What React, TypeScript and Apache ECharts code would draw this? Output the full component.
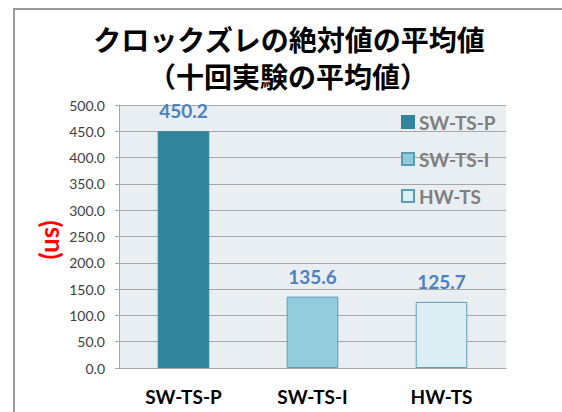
import React, { useEffect, useRef } from "react";
import * as echarts from "echarts";

const categories = ["SW-TS-P", "SW-TS-I", "HW-TS"];
const values = [450.2, 135.6, 125.7];
const barColors = ["#31859C", "#93CDDD", "#DBEEF4"];
const borderColors = ["#31859C", "#5A9DB4", "#5A9DB4"];
const titleLines = ["クロックズレの絶対値の平均値", "（十回実験の平均値）"];
const yAxisName = "(us)";

export default function App() {
  const ref = useRef<HTMLDivElement>(null);
  useEffect(() => {
    if (!ref.current) return;
    const chart = echarts.init(ref.current, null, { renderer: "svg" });
    const latin = "Lato, 'Noto Sans', sans-serif";
    const series = categories.map((name, i) => ({
      name,
      type: "bar",
      stack: "total",
      barWidth: "40%",
      data: values.map((v, j) => (j === i ? v : null)),
      itemStyle: { color: barColors[i], borderColor: borderColors[i], borderWidth: 1 },
      label: {
        show: true,
        position: "top",
        distance: 11,
        color: "#4F81BD",
        fontFamily: latin,
        fontWeight: "bold",
        fontSize: 19,
        formatter: (p: any) => Number(p.value).toFixed(1),
      },
    }));
    chart.setOption({
      animation: false,
      backgroundColor: "#ffffff",
      grid: {
        left: 119,
        right: 56,
        top: 105,
        bottom: 44,
        show: true,
        backgroundColor: "#E8EEF2",
        borderWidth: 0,
      },
      legend: {
        orient: "vertical",
        left: 396,
        top: 107,
        itemWidth: 12,
        itemHeight: 12,
        itemGap: 17,
        icon: "rect",
        data: categories,
        textStyle: {
          color: "#7F7F7F",
          fontFamily: latin,
          fontWeight: "bold",
          fontSize: 19,
          lineHeight: 20,
        },
      },
      xAxis: {
        type: "category",
        data: categories,
        axisLine: { show: true, lineStyle: { color: "#A6A6A6", width: 1 } },
        axisTick: { show: false },
        axisLabel: {
          color: "#000000",
          fontFamily: latin,
          fontWeight: "bold",
          fontSize: 19,
          margin: 19,
        },
      },
      yAxis: {
        type: "value",
        min: 0,
        max: 500,
        interval: 50,
        axisLine: { show: true, lineStyle: { color: "#A6A6A6", width: 1 } },
        axisTick: { show: true, length: 4, lineStyle: { color: "#A6A6A6" } },
        splitLine: { show: true, lineStyle: { color: "#A6A6A6", width: 1 } },
        axisLabel: {
          color: "#404040",
          fontFamily: latin,
          fontSize: 14,
          margin: 14,
          formatter: (v: number) => v.toFixed(1),
        },
      },
      graphic: [
        {
          type: "rect",
          silent: true,
          shape: { x: 14, y: 9, width: 620, height: 500 },
          style: { fill: "none", stroke: "#9A9A9A", lineWidth: 2 },
        },
        {
          type: "text",
          x: 289,
          y: 39,
          style: {
            text: titleLines[0],
            fill: "#000000",
            font: "bold 28px 'Noto Sans CJK JP', sans-serif",
            lineHeight: 30,
            textAlign: "center",
            textVerticalAlign: "middle",
          },
        },
        {
          type: "text",
          x: 288,
          y: 76,
          style: {
            text: titleLines[1],
            fill: "#000000",
            font: "bold 28px 'Noto Sans CJK JP', sans-serif",
            lineHeight: 30,
            textAlign: "center",
            textVerticalAlign: "middle",
          },
        },
        {
          type: "text",
          x: 49,
          y: 240,
          rotation: Math.PI / 2,
          style: {
            text: yAxisName,
            fill: "#FF0000",
            font: "bold 26px Lato, sans-serif",
            textAlign: "center",
            textVerticalAlign: "middle",
          },
        },
      ],
      series,
    });
    return () => chart.dispose();
  }, []);
  return (
    <div
      ref={ref}
      style={{ position: "fixed", left: 0, top: 0, width: 562, height: 412 }}
    />
  );
}
